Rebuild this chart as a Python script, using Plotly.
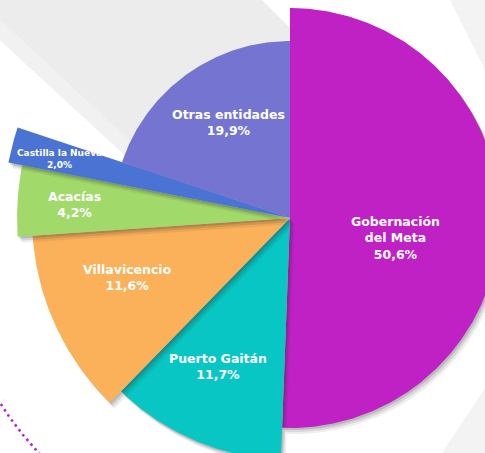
import numpy as np
import plotly.graph_objects as go

# ---- data ----
categories = ["Gobernación<br>del Meta", "Puerto Gaitán", "Villavicencio",
              "Acacías", "Castilla la Nueva", "Otras entidades"]
shares = [50.6, 11.7, 11.6, 4.2, 2.0, 19.9]

# ---- style ----
colors = ["#C021C5", "#07C6C3", "#FBB05A", "#A1DA6B", "#4A73D4", "#7575D1"]
radius_px = [210, 242, 258, 273, 287, 177]          # outer radius of each wedge
label_frac = [0.51, 0.68, 0.67, 0.79, 0.83, 0.64]    # label distance (fraction of radius)
label_dtheta = [9.7, 2.6, 4.8, 0.0, -0.5, 3.0]       # label angle nudge (deg)
label_size = [12.5, 12.5, 12.5, 12.5, 9, 12.5]
draw_order = [5, 0, 1, 2, 3, 4]

W, H = 485, 453
cx, cy = 290, 218

def wedge(a0, a1, r, dx=0.0, dy=0.0):
    n = max(24, int((a1 - a0) * 2))
    th = np.radians(np.linspace(a0, a1, n))
    xs = np.concatenate([[cx], cx + r * np.sin(th), [cx]]) + dx
    ys = np.concatenate([[cy], cy - r * np.cos(th), [cy]]) + dy
    return xs, ys

total = sum(shares)
starts = np.concatenate([[0], np.cumsum(shares)[:-1]]) / total * 360
ends = np.cumsum(shares) / total * 360

fig = go.Figure()

# decorative dotted ring
th = np.radians(np.linspace(180, 290, 400))
fig.add_trace(go.Scatter(x=cx + 344 * np.sin(th), y=cy - 344 * np.cos(th),
                         mode="lines", line=dict(color="#B52BC9", width=2.6, dash="2.6px,3.6px"),
                         hoverinfo="skip", showlegend=False))

for i in draw_order:
    # soft drop shadow
    for k, (sx, sy, op) in enumerate([(1.5, 2, 0.16), (3, 4, 0.12), (4.5, 6, 0.08)]):
        xs, ys = wedge(starts[i], ends[i], radius_px[i], sx, sy)
        fig.add_trace(go.Scatter(x=xs, y=ys, mode="lines", fill="toself",
                                 fillcolor=f"rgba(40,40,40,{op})", line=dict(width=0),
                                 hoverinfo="skip", showlegend=False))
    xs, ys = wedge(starts[i], ends[i], radius_px[i])
    fig.add_trace(go.Scatter(x=xs, y=ys, mode="lines", fill="toself",
                             fillcolor=colors[i], line=dict(width=0, color=colors[i]),
                             name=categories[i].replace("<br>", " "),
                             hoverinfo="name", showlegend=False))

for i in range(len(shares)):
    mid = (starts[i] + ends[i]) / 2 + label_dtheta[i]
    rr = radius_px[i] * label_frac[i]
    lx = cx + rr * np.sin(np.radians(mid))
    ly = cy - rr * np.cos(np.radians(mid))
    txt = f"{categories[i]}<br>{shares[i]:.1f}".replace(".", ",") + "%"
    fig.add_annotation(x=lx, y=ly, text=txt, showarrow=False,
                       xanchor="center", yanchor="middle", align="center",
                       font=dict(family="DejaVu Sans", size=label_size[i],
                                 color="white", weight="bold"))

# light grey background shapes
fig.add_shape(type="path", path="M 0 0 L 262 0 L 300 38 L 300 220 L 127 157 L 0 40 Z",
              fillcolor="#ececec", line=dict(width=0), layer="below")
fig.add_shape(type="path", path="M 0 40 L 127 157 L 140 150 L 20 38 L 0 20 Z",
              fillcolor="#f1f1f1", line=dict(width=0), layer="below")
fig.add_shape(type="path", path="M 450 0 L 485 0 L 485 70 Z",
              fillcolor="#f3f3f3", line=dict(width=0), layer="below")
fig.add_shape(type="path", path="M 442 453 L 485 388 L 485 453 Z",
              fillcolor="#f3f3f3", line=dict(width=0), layer="below")

fig.update_layout(
    width=W, height=H, margin=dict(l=0, r=0, t=0, b=0),
    paper_bgcolor="white", plot_bgcolor="white",
    xaxis=dict(range=[0, W], visible=False, fixedrange=True),
    yaxis=dict(range=[H, 0], visible=False, fixedrange=True),
    showlegend=False,
)

fig.write_html("out.html", config={"displayModeBar": False},
               post_script="document.body.style.margin='0px';document.body.style.overflow='hidden';")
